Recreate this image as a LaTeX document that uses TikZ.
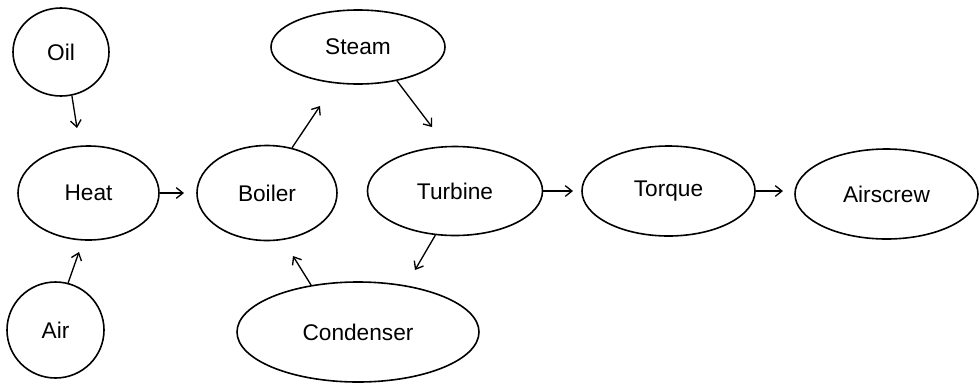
\documentclass[tikz,border=0pt]{standalone}
\usepackage{fontspec}
\setmainfont{Liberation Sans}
\usetikzlibrary{shapes.geometric,arrows.meta}
\begin{document}
\begin{tikzpicture}[x=0.75pt,y=-0.75pt,
  blob/.style={draw,ellipse,line width=1.2pt,inner sep=0pt,font=\fontsize{17}{20}\selectfont},
  arr/.style={line width=1pt,-{Straight Barb[length=5pt,width=8pt]}}]
\useasboundingbox (0,0) rectangle (979,383);
\node[blob,minimum width=72pt,minimum height=66pt] (oil) at (61,52) {Oil};
\node[blob,minimum width=105.75pt,minimum height=70.5pt] (heat) at (88.5,193) {Heat};
\node[blob,minimum width=72.75pt,minimum height=72pt] (air) at (55.5,330) {Air};
\node[blob,minimum width=105pt,minimum height=71.25pt] (boiler) at (267,193) {Boiler};
\node[blob,minimum width=130.5pt,minimum height=55.5pt] (steam) at (358,47) {Steam};
\node[blob,minimum width=131.25pt,minimum height=66.75pt] (turbine) at (455,191) {Turbine};
\node[blob,minimum width=181.5pt,minimum height=75pt] (condenser) at (358,332) {Condenser};
\node[blob,minimum width=129.75pt,minimum height=67.5pt] (torque) at (668.5,191) {Torque};
\node[blob,minimum width=137.25pt,minimum height=67.5pt] (airscrew) at (886.5,194) {Airscrew};
\coordinate (t1) at (77,128);
\coordinate (t2) at (79,252);
\coordinate (t3) at (184,193);
\coordinate (t4) at (320,106);
\coordinate (t5) at (432,127);
\coordinate (t6) at (415,270);
\coordinate (t7) at (293,256);
\coordinate (t8) at (573,191);
\coordinate (t9) at (783,191);
\draw[arr] (oil.-76) -- (t1);
\draw[arr] (air.75) -- (t2);
\draw[arr] (heat.east) -- (t3);
\draw[arr] (boiler.61) -- (t4);
\draw[arr] (steam.-41) -- (t5);
\draw[arr] (turbine.-114) -- (t6);
\draw[arr] (condenser.135.7) -- (t7);
\draw[arr] (turbine.east) -- (t8);
\draw[arr] (torque.east) -- (t9);
\end{tikzpicture}
\end{document}
